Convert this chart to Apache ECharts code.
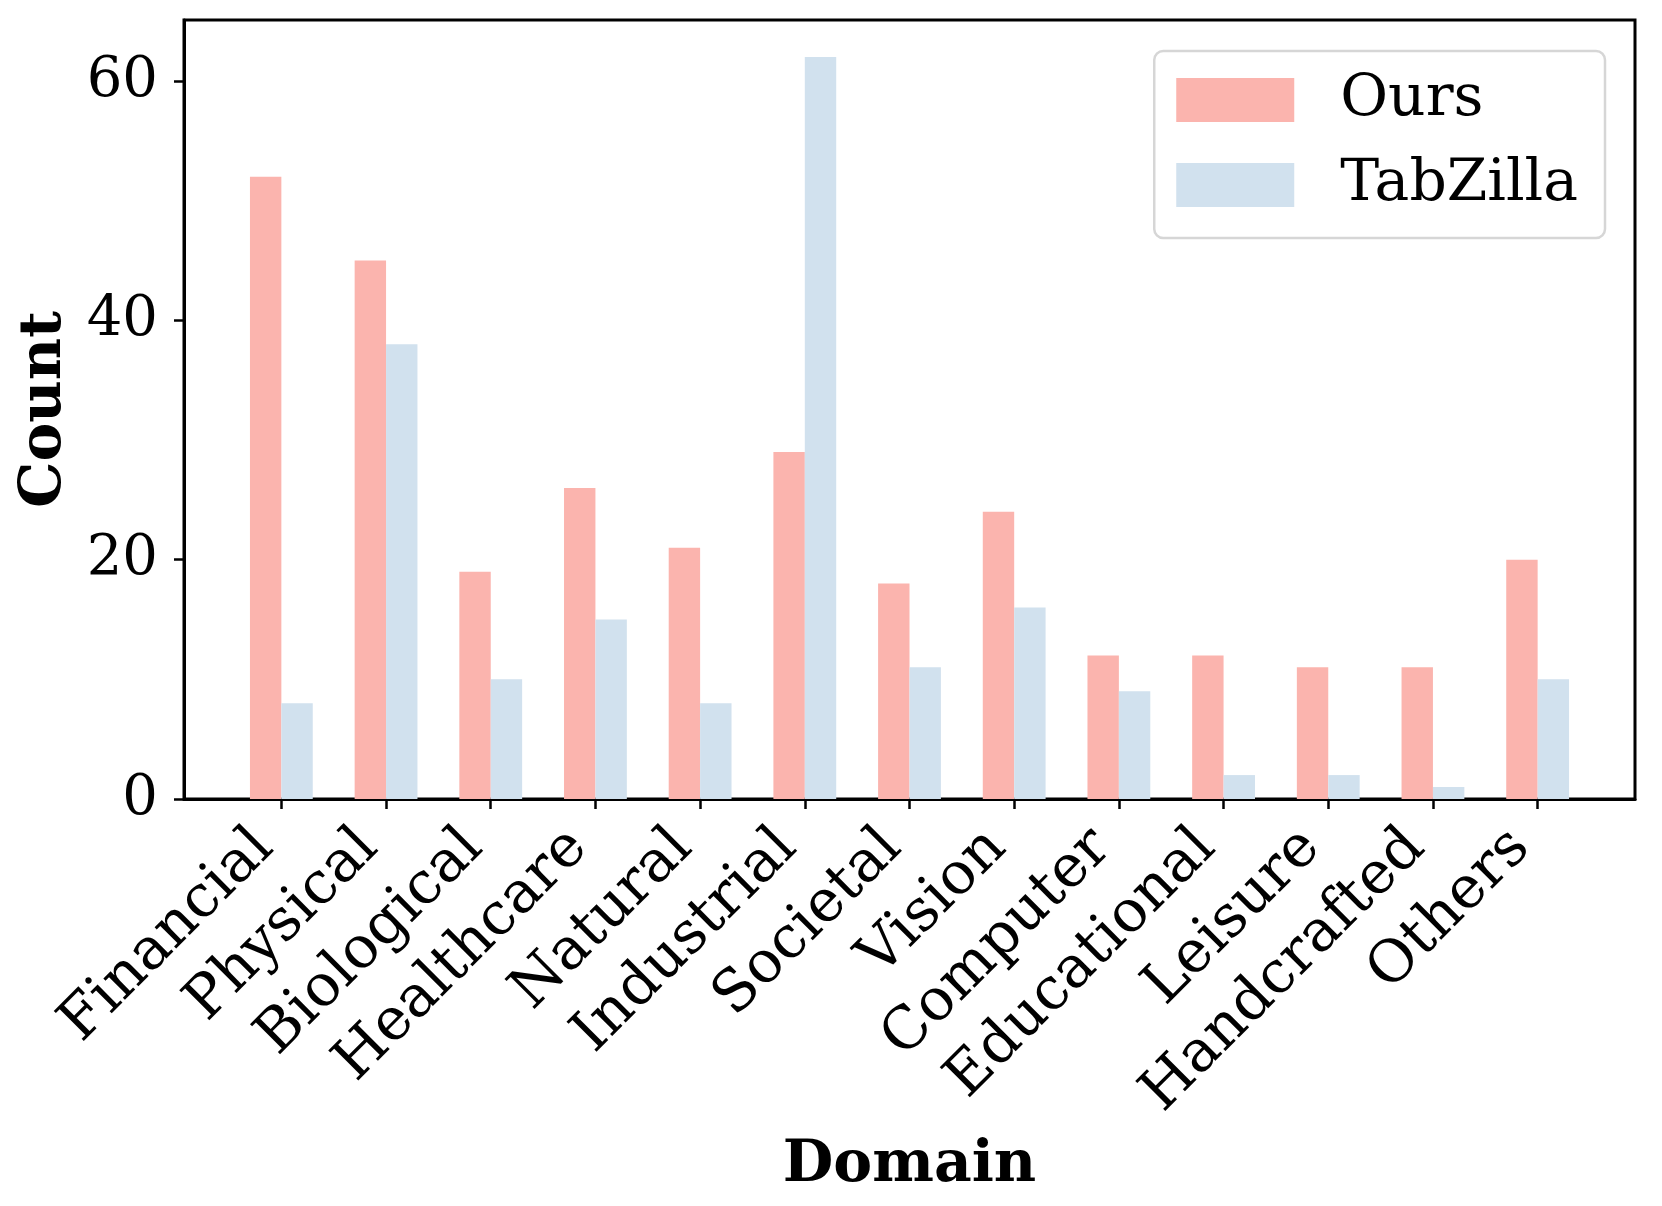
<!DOCTYPE html>
<html>
<head>
<meta charset="utf-8">
<script src="https://cdn.jsdelivr.net/npm/echarts@6/dist/echarts.min.js"></script>
<style>
html,body{margin:0;padding:0;background:#fff;}
#chart{width:1662px;height:1206px;}
</style>
</head>
<body>
<div id="chart"></div>
<script>
const categories = ['Financial','Physical','Biological','Healthcare','Natural','Industrial','Societal','Vision','Computer','Educational','Leisure','Handcrafted','Others'];
const oursValues = [52,45,19,26,21,29,18,24,12,12,11,11,20];
const tabzillaValues = [8,38,10,15,8,62,11,16,9,2,2,1,10];
const yTicks = [0,20,40,60];

const FONT = 'DejaVu Serif';
const FS = 58.33;
const positions = categories.map((c,i)=>i);
const chart = echarts.init(document.getElementById('chart'), null, {renderer:'canvas'});
const gridLeft = 184, gridRight = 27;
const plotW = 1662 - gridLeft - gridRight;
const xMin = -0.93, xMax = 12.93;
const barPx = 0.3 * plotW / (xMax - xMin);

chart.setOption({
  animation:false,
  backgroundColor:'#fff',
  grid:{left:gridLeft, right:gridRight, top:20, bottom:407, show:true, borderColor:'#000', borderWidth:3, backgroundColor:'transparent'},
  legend:{
    orient:'vertical', right:57, top:51,
    data:['Ours','TabZilla'],
    itemWidth:118, itemHeight:44, itemGap:27,
    padding:[20,27,24,22],
    backgroundColor:'#fff', borderColor:'#d6d6d6', borderWidth:2.5, borderRadius:9,
    textStyle:{fontFamily:FONT, fontSize:FS, color:'#000', padding:[0,0,0,41]},
    icon:'rect'
  },
  xAxis:{
    type:'value', min:xMin, max:xMax,
    name:'Domain', nameLocation:'middle', nameGap:338,
    nameTextStyle:{fontFamily:FONT, fontSize:FS, fontWeight:'bold', color:'#000'},
    axisLine:{show:true, onZero:false, lineStyle:{color:'#000', width:3}},
    axisTick:{show:true, length:10, lineStyle:{color:'#000', width:2.5}, customValues:positions},
    axisLabel:{
      customValues:positions,
      formatter:(v)=>categories[Math.round(v)],
      rotate:45, margin:23, padding:[0,24,0,0],
      fontFamily:FONT, fontSize:FS, color:'#000'
    },
    splitLine:{show:false}
  },
  yAxis:{
    type:'value', min:0, max:65.1,
    name:'Count', nameLocation:'middle', nameGap:110, nameRotate:90,
    nameTextStyle:{fontFamily:FONT, fontSize:FS, fontWeight:'bold', color:'#000'},
    axisLine:{show:true, onZero:false, lineStyle:{color:'#000', width:3}},
    axisTick:{show:true, length:10, lineStyle:{color:'#000', width:2.5}, customValues:yTicks},
    axisLabel:{customValues:yTicks, margin:26, fontFamily:FONT, fontSize:56, color:'#000'},
    splitLine:{show:false}
  },
  series:[
    {name:'Ours', type:'bar', barWidth:barPx, barGap:'0%',
     itemStyle:{color:'#fbb4ae'},
     data:oursValues.map((v,i)=>[positions[i], v])},
    {name:'TabZilla', type:'bar', barWidth:barPx, barGap:'0%',
     itemStyle:{color:'#d1e1ee'},
     data:tabzillaValues.map((v,i)=>[positions[i], v])}
  ]
});
</script>
</body>
</html>
